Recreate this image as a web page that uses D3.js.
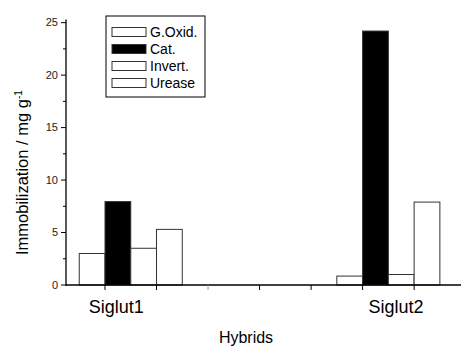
<!DOCTYPE html>
<html>
<head>
<meta charset="utf-8">
<script src="https://cdn.jsdelivr.net/npm/d3@7"></script>
<style>
  body { margin: 0; background: #fff; }
  text { font-family: "Liberation Sans", Arial, sans-serif; fill: #000; }
</style>
</head>
<body>
<svg width="461" height="347"></svg>
<script>
// Data
var hybrids = ["Siglut1", "Siglut2"];
var enzymes = ["G.Oxid.", "Cat.", "Invert.", "Urease"];
var gOxid = [3.0, 0.85];
var cat = [7.95, 24.2];
var invert = [3.5, 1.0];
var urease = [5.3, 7.9];
var yTicks = [0, 5, 10, 15, 20, 25];

var series = [gOxid, cat, invert, urease];
var fills = ["#fff", "#000", "#fff", "#fff"];

var svg = d3.select("svg");

// x axis works in "slot" units, one tick per slot, bars half a slot wide
var x = d3.scaleLinear().domain([-0.757, 6.91]).range([66, 461]);
var y = d3.scaleLinear().domain([0, 25.3]).range([285, 19.5]);

var groupCenter = [0.5, 5.5];   // centre of each group on the x scale
var labelPos = [0.22, 5.65];    // where the category text sits
var barW = 0.5;

// bars
hybrids.forEach(function (h, i) {
    svg.append("g")
        .selectAll("rect")
        .data(series.map(function (s, j) { return { v: s[i], j: j }; }))
        .enter()
        .append("rect")
        .attr("x", function (d) { return x(groupCenter[i] - 2 * barW + d.j * barW); })
        .attr("width", x(barW) - x(0))
        .attr("y", function (d) { return y(d.v); })
        .attr("height", function (d) { return y(0) - y(d.v); })
        .attr("fill", function (d) { return fills[d.j]; })
        .attr("stroke", "#333")
        .attr("stroke-width", 1);
});

// y axis
var yAxis = svg.append("g").attr("transform", "translate(66,0)");
yAxis.append("line").attr("x1", 0).attr("x2", 0).attr("y1", y(25.3)).attr("y2", y(0) + 1)
    .attr("stroke", "#000").attr("stroke-width", 1.3);
yAxis.selectAll(".major").data(yTicks).enter().append("line")
    .attr("x1", -5).attr("x2", 0)
    .attr("y1", function (d) { return y(d); }).attr("y2", function (d) { return y(d); })
    .attr("stroke", "#000");
yAxis.selectAll(".minor").data(yTicks.map(function (d) { return d + 2.5; })).enter().append("line")
    .attr("x1", -3).attr("x2", 0)
    .attr("y1", function (d) { return y(d); }).attr("y2", function (d) { return y(d); })
    .attr("stroke", "#000");
yAxis.selectAll("text").data(yTicks).enter().append("text")
    .attr("x", -8).attr("y", function (d) { return y(d); })
    .attr("dy", "0.35em").attr("text-anchor", "end")
    .style("font-size", "11px").style("fill", "#222")
    .text(function (d) { return d; });

// x axis
var xAxis = svg.append("g");
xAxis.append("line").attr("x1", 66).attr("x2", 461).attr("y1", y(0)).attr("y2", y(0))
    .attr("stroke", "#000").attr("stroke-width", 1.5);
xAxis.selectAll(".tick").data(d3.range(0, 7)).enter().append("line")
    .attr("x1", function (d) { return x(d); }).attr("x2", function (d) { return x(d); })
    .attr("y1", y(0)).attr("y2", y(0) + 5)
    .attr("stroke", function (d) { return d === 2 ? "#999" : "#000"; });
xAxis.selectAll("text").data(hybrids).enter().append("text")
    .attr("x", function (d, i) { return x(labelPos[i]); })
    .attr("y", 313)
    .attr("text-anchor", "middle")
    .style("font-size", "18px")
    .text(function (d) { return d; });

// axis titles
svg.append("text")
    .attr("x", 246).attr("y", 343)
    .attr("text-anchor", "middle")
    .style("font-size", "16px")
    .text("Hybrids");

var yt = svg.append("text")
    .attr("transform", "translate(28,255) rotate(-90)")
    .attr("text-anchor", "start")
    .style("font-size", "16.5px");
yt.append("tspan").text("Immobilization / mg g");
yt.append("tspan").attr("dy", "-0.65em").style("font-size", "10px").text("-1");

// legend
var leg = svg.append("g").attr("transform", "translate(106,16)");
leg.append("rect").attr("width", 99).attr("height", 81)
    .attr("fill", "#fff").attr("stroke", "#000").attr("stroke-width", 1);
var item = leg.selectAll(".item").data(enzymes).enter().append("g")
    .attr("transform", function (d, i) { return "translate(6," + (16 + i * 17) + ")"; });
item.append("rect")
    .attr("y", -4.5).attr("width", 34).attr("height", 9)
    .attr("fill", function (d, i) { return fills[i]; })
    .attr("stroke", "#333");
item.append("text")
    .attr("x", 38).attr("dy", "0.36em")
    .style("font-size", "14px")
    .text(function (d) { return d; });
</script>
</body>
</html>
